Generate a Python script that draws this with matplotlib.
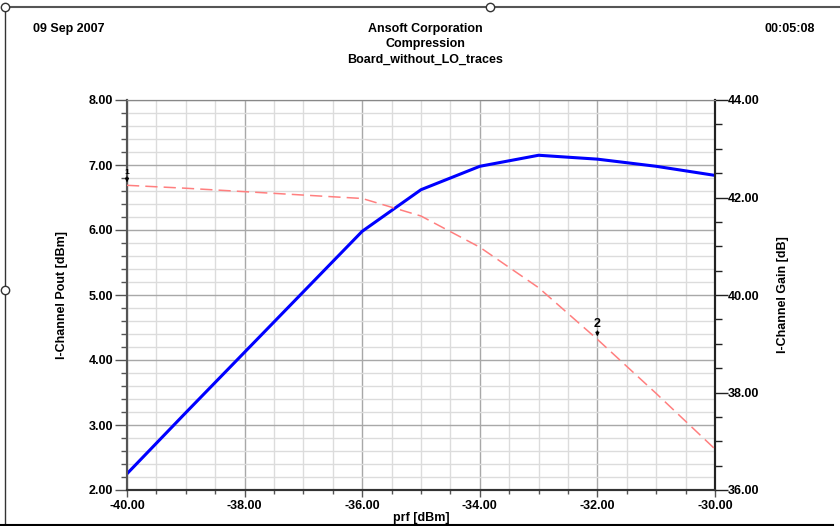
import matplotlib
matplotlib.use("Agg")
import matplotlib.pyplot as plt
from matplotlib.ticker import MultipleLocator, FormatStrFormatter
from matplotlib.lines import Line2D

plt.rcParams['font.family'] = ['Liberation Sans', 'DejaVu Sans']
plt.rcParams['font.weight'] = 'bold'
plt.rcParams['axes.labelweight'] = 'bold'

# sweep data
prf = [-40, -39, -38, -37, -36, -35, -34, -33, -32, -31, -30]
pout = [2.25, 3.19, 4.12, 5.05, 5.98, 6.62, 6.98, 7.15, 7.09, 6.98, 6.84]
gain = [42.25, 42.19, 42.12, 42.05, 41.98, 41.62, 40.98, 40.15, 39.09, 37.98, 36.84]

# markers (x, gain, label)
marker_x = [-40, -32]
marker_y = [42.25, 39.09]
marker_lbl = ["1", "2"]

fig = plt.figure(figsize=(8.4, 5.26), dpi=100)
ax = fig.add_axes([127/840, 1-490/526, (715-127)/840, 390/526])
ax2 = ax.twinx()

ax.plot(prf, pout, color='#0000ff', lw=2.2, zorder=5)
ax2.plot(prf, gain, color='#ff7f7f', lw=1.1, dashes=(8, 4), zorder=4)

ax.set_xlim(-40, -30)
ax.set_ylim(2, 8)
ax2.set_ylim(36, 44)

ax.xaxis.set_major_locator(MultipleLocator(2))
ax.xaxis.set_minor_locator(MultipleLocator(0.5))
ax.yaxis.set_major_locator(MultipleLocator(1))
ax.yaxis.set_minor_locator(MultipleLocator(0.2))
ax2.yaxis.set_major_locator(MultipleLocator(2))
ax2.yaxis.set_minor_locator(MultipleLocator(0.5))
for a in (ax.xaxis, ax.yaxis, ax2.yaxis):
    a.set_major_formatter(FormatStrFormatter('%.2f'))

ax.grid(which='major', color='#a8a8a8', lw=1.0)
ax.grid(which='minor', color='#dcdcdc', lw=1.0)
ax.set_axisbelow(True)

for a in (ax, ax2):
    for s in a.spines.values():
        s.set_color('#888888')
    a.spines['left'].set_color('#555555')
    a.spines['bottom'].set_color('#333333')
    a.spines['right'].set_color('#222222')
    a.spines['bottom'].set_linewidth(1.5)
    a.spines['right'].set_linewidth(1.5)
    a.spines['left'].set_linewidth(1.5)

ax.tick_params(which='major', length=9, width=1, color='#555555', labelsize=9, pad=1)
ax.tick_params(which='minor', length=4, width=1, color='#555555')
ax.tick_params(axis='x', which='major', length=5, pad=2)
ax.tick_params(axis='x', which='minor', length=3)
ax2.tick_params(which='major', length=9, width=1, color='#222222', labelsize=9, pad=0)
ax2.tick_params(which='minor', length=5, width=1, color='#222222')

ax.set_xlabel('prf [dBm]', fontsize=9, labelpad=0)
ax.set_ylabel('I-Channel Pout [dBm]', fontsize=9, labelpad=15)
ax2.set_ylabel('I-Channel Gain [dB]', fontsize=9, labelpad=13)

for x, y, t in zip(marker_x, marker_y, marker_lbl):
    ax2.annotate('', xy=(x, y), xytext=(0, 8), textcoords='offset points',
                 arrowprops=dict(arrowstyle='-|>', color='black', lw=1, mutation_scale=5),
                 annotation_clip=False, zorder=6)
    ax2.annotate(t, xy=(x, y), xytext=(0, 7), textcoords='offset points',
                 ha='center', va='bottom', fontsize=6 if t == "1" else 9, zorder=6)

fig.text(33/840, 1-29/526, '09 Sep 2007', fontsize=9, va='center', ha='left')
fig.text(815/840, 1-29/526, '00:05:08', fontsize=9, va='center', ha='right')
fig.text(425/840, 1-29/526, 'Ansoft Corporation', fontsize=9, va='center', ha='center')
fig.text(425/840, 1-44/526, 'Compression', fontsize=9, va='center', ha='center')
fig.text(425/840, 1-60/526, 'Board_without_LO_traces', fontsize=9, va='center', ha='center')

# outer frame
def px(x, y):
    return x/840, 1-y/526

for (x0, y0), (x1, y1), c, w in [((5, 7), (840, 7), '#555555', 1.5),
                                 ((5, 7), (5, 526), '#333333', 1.0),
                                 ((0, 525), (833, 525), '#000000', 1.5)]:
    a0, b0 = px(x0, y0)
    a1, b1 = px(x1, y1)
    fig.add_artist(Line2D([a0, a1], [b0, b1], transform=fig.transFigure, color=c, lw=w))
for cx, cy in [(5, 7), (490, 7), (5, 290)]:
    a0, b0 = px(cx, cy)
    fig.add_artist(Line2D([a0], [b0], transform=fig.transFigure, marker='o', ms=6,
                          mfc='white', mec='#333333', mew=1))

fig.savefig('out.png', dpi=100, facecolor='white')
